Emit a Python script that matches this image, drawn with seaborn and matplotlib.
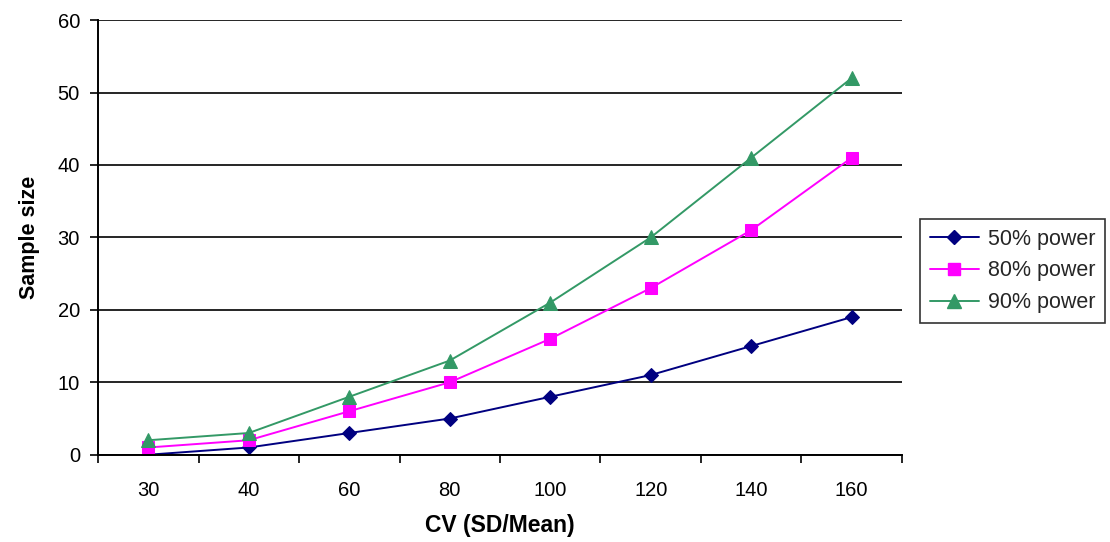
import matplotlib
matplotlib.use("Agg")
import matplotlib.pyplot as plt
from matplotlib.ticker import FixedLocator, MultipleLocator
import seaborn as sns
import pandas as pd

# Sample size needed per coefficient of variation, for three power levels
cv_labels = ["30", "40", "60", "80", "100", "120", "140", "160"]
power_50 = [0, 1, 3, 5, 8, 11, 15, 19]
power_80 = [1, 2, 6, 10, 16, 23, 31, 41]
power_90 = [2, 3, 8, 13, 21, 30, 41, 52]
series_names = ["50% power", "80% power", "90% power"]

df = pd.DataFrame({
    "cv": cv_labels * 3,
    "n": power_50 + power_80 + power_90,
    "series": [s for s in series_names for _ in cv_labels],
})

sns.set_theme(style="white")
plt.rcParams["font.family"] = ["Liberation Sans", "DejaVu Sans"]

fig = plt.figure(figsize=(11.10, 5.42), dpi=100)
ax = fig.add_axes([0.0883, 0.161, 0.7243, 0.802])

colors = {"50% power": "#000080", "80% power": "#FF00FF", "90% power": "#339966"}
markers = {"50% power": "D", "80% power": "s", "90% power": "^"}
msizes = {"50% power": 7.5, "80% power": 8, "90% power": 9.5}

for name in series_names:
    sub = df[df["series"] == name]
    sns.lineplot(data=sub, x="cv", y="n", ax=ax, color=colors[name],
                 marker=markers[name], markersize=msizes[name],
                 markeredgecolor=colors[name], linewidth=1.4,
                 label=name, sort=False, errorbar=None, legend=False)

ax.set_xlim(-0.5, len(cv_labels) - 0.5)
ax.set_ylim(0, 60)
ax.yaxis.set_major_locator(MultipleLocator(10))
ax.yaxis.grid(True, color="black", linewidth=1.2)
ax.set_axisbelow(True)

ax.set_xticks(range(len(cv_labels)))
ax.set_xticklabels(cv_labels)
ax.xaxis.set_minor_locator(FixedLocator([i - 0.5 for i in range(len(cv_labels) + 1)]))
ax.tick_params(axis="x", which="major", length=0, pad=19, labelsize=14.5, colors="black")
ax.tick_params(axis="x", which="minor", length=6, width=1.2, color="black", bottom=True)
ax.tick_params(axis="y", which="major", length=6, width=1.2, color="black", left=True,
               labelsize=14.5, pad=7, labelcolor="black")

for side in ["top", "right"]:
    ax.spines[side].set_visible(False)
for side in ["left", "bottom"]:
    ax.spines[side].set_color("black")
    ax.spines[side].set_linewidth(1.4)

ax.set_xlabel("CV (SD/Mean)", fontsize=16.5, fontweight="bold", labelpad=10, color="black")
ax.set_ylabel("Sample size", fontsize=15.5, fontweight="bold", labelpad=13, color="black")

handles = [plt.Line2D([], [], color=colors[s], marker=markers[s], markersize=msizes[s],
                      linewidth=1.4, markeredgecolor=colors[s]) for s in series_names]
leg = fig.legend(handles, series_names, loc="upper left",
                 bbox_to_anchor=(920 / 1110, 1 - 219 / 542), fontsize=15.5,
                 frameon=True, fancybox=False, edgecolor="black",
                 handlelength=2.3, borderpad=0.45, labelspacing=0.5, handletextpad=0.4,
                 borderaxespad=0)
leg.get_frame().set_linewidth(1.2)

fig.savefig("out.png", dpi=100)
